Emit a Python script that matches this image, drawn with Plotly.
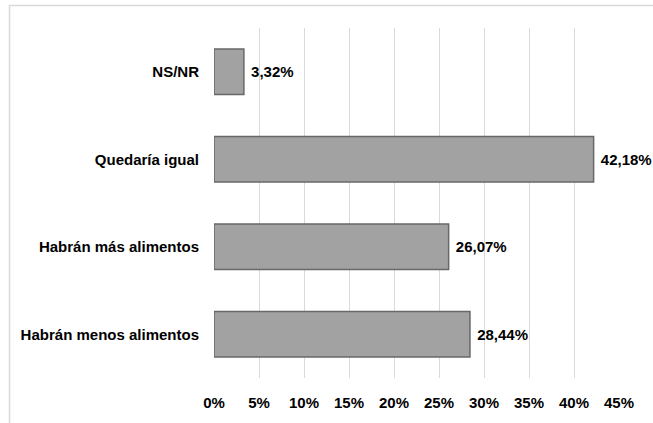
import plotly.graph_objects as go

categorias = ["Habrán menos alimentos", "Habrán más alimentos", "Quedaría igual", "NS/NR"]
valores = [0.2844, 0.2607, 0.4218, 0.0332]
etiquetas = ["28,44%", "26,07%", "42,18%", "3,32%"]
tick_vals = [0, 0.05, 0.10, 0.15, 0.20, 0.25, 0.30, 0.35, 0.40, 0.45]
tick_text = ["0%", "5%", "10%", "15%", "20%", "25%", "30%", "35%", "40%", "45%"]

fuente = "Liberation Sans, Arial, sans-serif"

fig = go.Figure()
fig.add_trace(go.Bar(
    y=categorias,
    x=valores,
    orientation="h",
    marker=dict(color="#a2a2a2", line=dict(color="#686868", width=1.5)),
    text=["&nbsp;<b>%s</b>" % t for t in etiquetas],
    textposition="outside",
    textfont=dict(family=fuente, size=15, color="#000000"),
    cliponaxis=False,
    width=0.52,
))

# borde del grafico
fig.add_shape(type="rect", xref="paper", yref="paper",
              x0=-0.5049, x1=2, y0=-1, y1=1.064,
              line=dict(color="#d9d9d9", width=1.5), fillcolor="rgba(0,0,0,0)")

fig.update_layout(
    width=653, height=423,
    margin=dict(l=214, r=34, t=28, b=41),
    plot_bgcolor="white",
    paper_bgcolor="white",
    showlegend=False,
    font=dict(family=fuente, size=15, color="#000000"),
    xaxis=dict(
        range=[0, 0.45],
        tickvals=tick_vals,
        ticktext=["<b>%s</b>" % t for t in tick_text],
        showgrid=True, gridcolor="#d9d9d9", gridwidth=1,
        zeroline=False, showline=False,
        ticks="", ticklabelstandoff=14,
        tickfont=dict(family=fuente, size=15),
    ),
    yaxis=dict(
        ticktext=["<b>%s</b>" % c for c in categorias],
        tickvals=categorias,
        showgrid=False, zeroline=False, showline=False,
        ticks="", ticklabelstandoff=14,
        tickfont=dict(family=fuente, size=15),
    ),
)

fig.write_html("out.html", config={"displayModeBar": False},
               post_script="document.body.style.margin='0';")
